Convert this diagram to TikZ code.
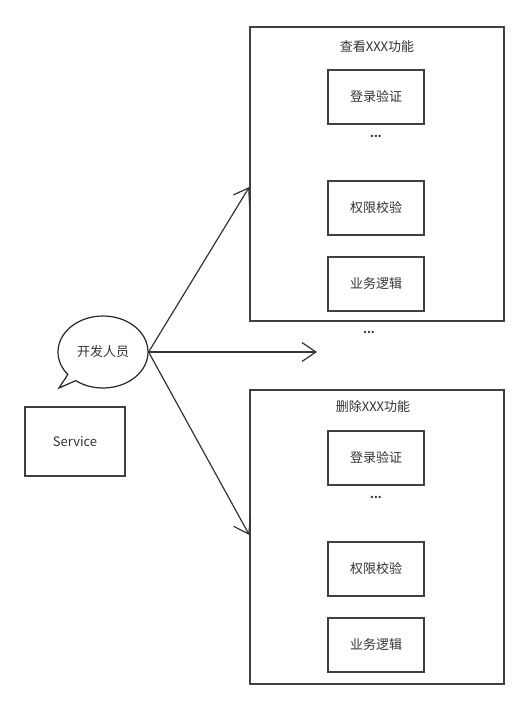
\documentclass[tikz,border=0pt]{standalone}
\usepackage{fontspec}
\setmainfont{Noto Sans CJK SC}
\usetikzlibrary{arrows.meta, shapes.callouts, positioning}

\tikzset{
  funcbox/.style={draw=black!75, line width=1.4pt, minimum width=254pt, minimum height=294pt, inner sep=0pt},
  stepbox/.style={draw=black!75, line width=1.4pt, minimum width=96pt, minimum height=54pt, font=\fontsize{13}{15}\selectfont, text=black!80},
  label/.style={font=\fontsize{13}{15}\selectfont, text=black!80},
  dots/.style={font=\bfseries\fontsize{11}{13}\selectfont, text=black!80},
  link/.style={draw=black!80, line width=1.2pt, -{Straight Barb[length=14pt, width=19pt, line width=1.2pt]}}
}

\begin{document}
\begin{tikzpicture}[x=1pt, y=-1pt]
  \fill[white] (0,0) rectangle (530,710);
  \useasboundingbox (0,0) rectangle (530,710);

  % developer and service
  \node[ellipse callout, draw=black!85, line width=1.2pt, minimum width=90pt, minimum height=72pt,
        callout absolute pointer={(59,388)}, callout pointer arc=14, label] (dev) at (103,352) {开发人员};
  \node[draw=black!75, line width=1.4pt, minimum width=100pt, minimum height=69pt, label] (service) at (75,441.5) {Service};

  % view function
  \node[funcbox] (view) at (377,174) {};
  \node[label] (viewtitle) at (377,47) {查看XXX功能};
  \node[stepbox] (viewlogin) at (376,97) {登录验证};
  \node[dots] (viewdots) at (376,136) {...};
  \node[stepbox] (viewauth) at (376,208) {权限校验};
  \node[stepbox] (viewlogic) at (376,284) {业务逻辑};

  % middle
  \node[dots] (middots) at (369,332) {...};
  \coordinate (midend) at (317,352);

  % delete function
  \node[funcbox] (del) at (377,537) {};
  \node[label] (deltitle) at (373,407) {删除XXX功能};
  \node[stepbox] (dellogin) at (376,458) {登录验证};
  \node[dots] (deldots) at (376,497) {...};
  \node[stepbox] (delauth) at (376,569) {权限校验};
  \node[stepbox] (dellogic) at (376,645) {业务逻辑};

  % arrows
  \coordinate (viewin) at (view.west |- 0,187);
  \coordinate (delin) at (del.west |- 0,535);
  \draw[link] (dev.east) -- (viewin);
  \draw[link] (dev.east) -- (midend);
  \draw[link] (dev.east) -- (delin);
\end{tikzpicture}
\end{document}
